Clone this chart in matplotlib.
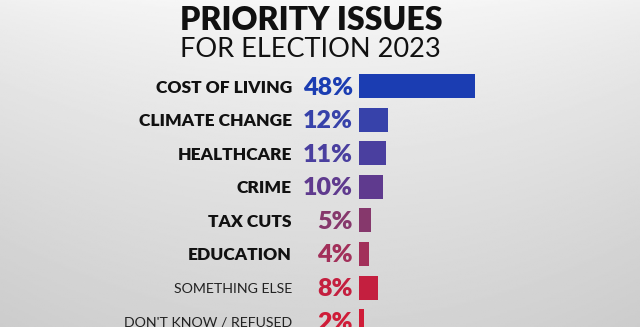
import numpy as np
import matplotlib
matplotlib.use('Agg')
from matplotlib import pyplot as plt

# survey results
issues = ['COST OF LIVING', 'CLIMATE CHANGE', 'HEALTHCARE', 'CRIME',
          'TAX CUTS', 'EDUCATION', 'SOMETHING ELSE', "DON'T KNOW / REFUSED"]
shares = [48, 12, 11, 10, 5, 4, 8, 2]
bold_label = [True, True, True, True, True, True, False, False]
bar_colors = ['#1b3db2', '#3742aa', '#4a3f9f', '#5f3a8e',
              '#86386c', '#a2305a', '#c41f3f', '#cf1c38']

W, H = 640, 327
px_per_pct = 2.42
bar_left = 359
row0 = 86
row_gap = 33.6

fig = plt.figure(figsize=(W / 100, H / 100), dpi=100)

# background: light grey, brighter towards the top
bg = fig.add_axes([0, 0, 1, 1])
bg.set_axis_off()
yy = np.linspace(0, 1, 200)[:, None]
xx = np.linspace(-1, 1, 300)[None, :]
shade = 0.97 - 0.14 * yy ** 0.8 - 0.03 * xx ** 2
bg.imshow(shade, cmap='gray', vmin=0, vmax=1, aspect='auto', extent=(0, 1, 0, 1), origin='upper')
bg.set_xlim(0, 1)
bg.set_ylim(0, 1)

ax = fig.add_axes([0, 0, 1, 1])
ax.patch.set_alpha(0)
ax.set_axis_off()
ax.set_xlim(-bar_left / px_per_pct, (W - bar_left) / px_per_pct)
ax.set_ylim((H - row0) / row_gap, -row0 / row_gap)

ypos = np.arange(len(issues))
ax.barh(ypos, shares, height=24 / row_gap, left=0, color=bar_colors, linewidth=0)

label_x = (292 - bar_left) / px_per_pct
pct_x = (353 - bar_left) / px_per_pct
for i, (name, val) in enumerate(zip(issues, shares)):
    if bold_label[i]:
        ax.text(label_x, i + 6.5 / row_gap, name, ha='right', va='baseline',
                fontsize=12.5, fontweight='heavy', family='Lato', color='#111111')
    else:
        ax.text(label_x, i + 5.5 / row_gap, name, ha='right', va='baseline',
                fontsize=10.2, fontweight='normal', family='Lato', color='#222222')
    ax.text(pct_x, i + 8.5 / row_gap, f'{val}%', ha='right', va='baseline',
            fontsize=18, fontweight='heavy', family='Lato', color=bar_colors[i])

fig.text(311 / W, 1 - 30 / H, 'PRIORITY ISSUES', ha='center', va='baseline',
         fontsize=23, fontweight='heavy', family='Lato', color='#111111')
fig.text(310 / W, 1 - 57 / H, 'FOR ELECTION 2023', ha='center', va='baseline',
         fontsize=19.5, fontweight='normal', family='Lato', color='#111111')

fig.savefig('out.png', dpi=100)
